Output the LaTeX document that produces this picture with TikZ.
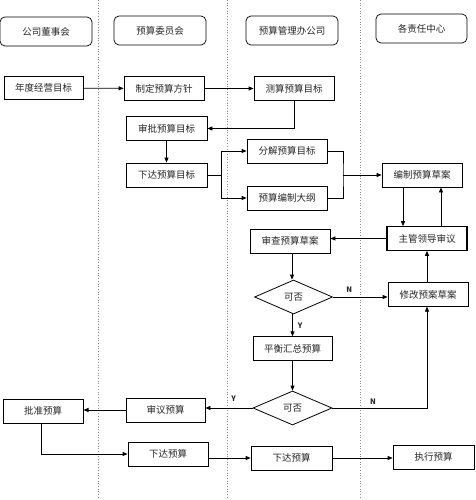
\documentclass[tikz,border=0pt]{standalone}
\usepackage{fontspec}
\setmainfont{Noto Sans CJK SC}
\usetikzlibrary{arrows.meta,shapes.geometric}
\begin{document}
\begin{tikzpicture}[x=1pt,y=-1pt,
  every node/.style={font=\fontsize{9.5}{11}\selectfont, text=black!85},
  head/.style={draw, rounded corners=5pt, line width=0.7pt, minimum width=92pt, minimum height=29pt, inner sep=0pt},
  box/.style={draw, line width=0.8pt, minimum width=80pt, minimum height=23.5pt, inner sep=0pt},
  dec/.style={draw, diamond, aspect=2.3, line width=0.8pt, minimum width=79pt, minimum height=34pt, inner sep=0pt},
  arr/.style={draw, line width=0.8pt, -{Triangle[length=5pt,width=4pt]}},
  ln/.style={draw, line width=0.8pt},
  lane/.style={draw=black!45, dotted, line width=0.7pt},
  yn/.style={font=\fontsize{7.5}{9}\selectfont\bfseries, inner sep=0pt}
]
\useasboundingbox (0,0) rectangle (475,500);
\fill[white] (0,0) rectangle (475,500);
% lanes
\coordinate (l1t) at (98,0);  \coordinate (l1b) at (98,500);
\coordinate (l2t) at (227,0); \coordinate (l2b) at (227,500);
\coordinate (l3t) at (360,0); \coordinate (l3b) at (360,500);
\draw[lane] (l1t) -- (l1b);
\draw[lane] (l2t) -- (l2b);
\draw[lane] (l3t) -- (l3b);
% headers
\node[head] (h1) at (46,31.5) {公司董事会};
\node[head] (h2) at (160,30.5) {预算委员会};
\node[head] (h3) at (292,30.5) {预算管理办公司};
\node[head, minimum width=91pt] (h4) at (421.5,28.5) {各责任中心};
% boxes
\node[box, minimum width=79pt] (n1) at (43.5,88) {年度经营目标};
\node[box] (n2) at (164,88.5) {制定预算方针};
\node[box] (n3) at (294,88.5) {测算预算目标};
\node[box, minimum width=81pt] (n4) at (166.5,128.5) {审批预算目标};
\node[box, minimum width=81pt, minimum height=24pt] (n5) at (166.5,175) {下达预算目标};
\node[box, minimum height=24pt] (n6) at (287,151) {分解预算目标};
\node[box, minimum height=24pt] (n7) at (287,198) {预算编制大纲};
\node[box, minimum height=24pt] (n8) at (422,175) {编制预算草案};
\node[box, line width=1.1pt] (n9) at (427,238.5) {主管领导审议};
\node[box, minimum height=24pt] (n10) at (290,241) {审查预算草案};
\node[dec, minimum width=78pt] (d1) at (293.5,297) {可否};
\node[box] (n11) at (428,294.5) {修改预案草案};
\node[box, minimum width=79pt] (n12) at (292.5,348.5) {平衡汇总预算};
\node[dec] (d2) at (292.5,408) {可否};
\node[box, minimum width=79pt, minimum height=24pt] (n13) at (165.5,410) {审议预算};
\node[box, minimum height=24pt, line width=1pt] (n14) at (43,411) {批准预算};
\node[box, minimum height=24pt] (n15) at (168,454) {下达预算};
\node[box, minimum width=81pt, minimum height=24pt] (n16) at (291.5,458) {下达预算};
\node[box, minimum width=81pt, minimum height=24pt] (n17) at (433.5,457) {执行预算};
% connectors
\draw[arr] (n1) -- (n2);
\draw[arr] (n2) -- (n3);
\draw[arr] (n3.south) |- (n4.east);
\draw[arr] (n4) -- (n5);
\coordinate (b1) at (221,175);
\draw[ln] (n5.east) -- (b1);
\draw[arr] (b1) |- (n6.west);
\draw[arr] (b1) |- (n7.west);
\coordinate (m1) at (343,175);
\draw[ln] (n6.east) -| (m1) |- (n7.east);
\draw[arr] (m1) -- (n8.west);
\draw[arr] ([xshift=-19pt]n8.south) -- ([xshift=-19pt]n8.south |- n9.north);
\draw[arr] ([xshift=14pt]n9.north) -- ([xshift=14pt]n9.north |- n8.south);
\draw[arr] (n9.west) -- (n9.west -| n10.east);
\draw[arr] ([xshift=2pt]n10.south) -- ([xshift=2pt]n10.south |- d1.north);
\draw[arr] (d1.east) -- (d1.east -| n11.west) node[yn, pos=0.3, above=4pt] {N};
\draw[arr] ([xshift=-1pt]n11.north) -- ([xshift=-1pt]n11.north |- n9.south);
\draw[arr] ([xshift=-1pt]d1.south) -- ([xshift=-1pt]d1.south |- n12.north) node[yn, midway, right=5pt] {Y};
\draw[arr] (n12.south) -- (d2.north);
\draw[arr] (d2.east) -| ([xshift=-1pt]n11.south) node[yn, pos=0.215, above=3pt] {N};
\draw[arr] (d2.west) -- (d2.west -| n13.east) node[yn, pos=0.4, above=6pt] {Y};
\draw[arr] (n13.west) -- (n13.west -| n14.east);
\draw[arr] ([xshift=-2pt]n14.south) |- (n15.west);
\draw[arr] (n15.east |- n16.west) -- (n16.west);
\draw[arr] (n16.east) -- (n16.east -| n17.west);
\end{tikzpicture}
\end{document}
